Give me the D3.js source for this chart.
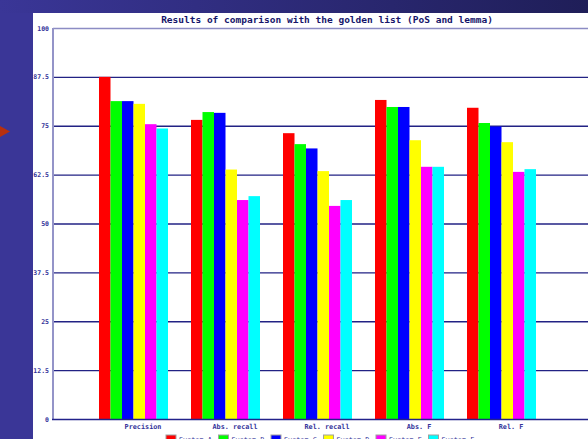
<!DOCTYPE html>
<html>
<head>
<meta charset="utf-8">
<script src="https://cdn.jsdelivr.net/npm/d3@7"></script>
<style>
  body { margin: 0; overflow: hidden; }
  text { font-family: "DejaVu Sans Mono", monospace; }
</style>
</head>
<body>
<svg id="chart"></svg>
<script>
// chart values
var categories = ["Precision", "Abs. recall", "Rel. recall", "Abs. F", "Rel. F"];
var systems = ["System A", "System B", "System C", "System D", "System E", "System F"];
var colors = ["#ff0000", "#00ff00", "#0000ff", "#ffff00", "#ff00ff", "#00ffff"];
var systemA = [87.5, 76.5, 73.1, 81.6, 79.6];
var systemB = [81.3, 78.5, 70.3, 79.8, 75.7];
var systemC = [81.3, 78.3, 69.2, 79.8, 74.8];
var systemD = [80.6, 63.8, 63.4, 71.3, 70.8];
var systemE = [75.4, 56.0, 54.5, 64.5, 63.2];
var systemF = [74.3, 57.0, 56.0, 64.5, 63.9];
var yTicks = [0, 12.5, 25, 37.5, 50, 62.5, 75, 87.5, 100];
var title = "Results of comparison with the golden list (PoS and lemma)";

var seriesValues = [systemA, systemB, systemC, systemD, systemE, systemF];

var dimensions = {
    width: 588,
    height: 439,
    panelLeft: 33,
    panelTop: 13,
    axisX: 53,
    top: 28,
    bottom: 419
};

var svg = d3.select("#chart")
    .attr("width", dimensions.width)
    .attr("height", dimensions.height);

// slide background
var defs = svg.append("defs");
var grad = defs.append("linearGradient").attr("id", "topGrad");
grad.append("stop").attr("offset", "0%").attr("stop-color", "#3a3697");
grad.append("stop").attr("offset", "100%").attr("stop-color", "#1f1e58");

svg.append("rect")
    .attr("width", dimensions.width)
    .attr("height", dimensions.height)
    .attr("fill", "#3a3697");
svg.append("rect")
    .attr("width", dimensions.width)
    .attr("height", dimensions.panelTop)
    .attr("fill", "url(#topGrad)");
svg.append("rect")
    .attr("x", dimensions.panelLeft)
    .attr("y", dimensions.panelTop)
    .attr("width", dimensions.width - dimensions.panelLeft)
    .attr("height", dimensions.height - dimensions.panelTop)
    .attr("fill", "#ffffff");

// little arrow on the slide edge
svg.append("path")
    .attr("d", "M0,126 L10,131.5 L0,137 Z")
    .attr("fill", "#b8300e");

var yScale = d3.scaleLinear()
    .domain([0, 100])
    .range([dimensions.bottom, dimensions.top]);

var xScale = d3.scaleBand()
    .domain(categories)
    .range([99, 99 + 92 * categories.length]);

var xInner = d3.scaleBand()
    .domain(systems)
    .range([0, 69]);

// gridlines
svg.append("g")
    .selectAll("line")
    .data(yTicks.filter(d => d > 0))
    .enter()
    .append("line")
    .attr("x1", dimensions.axisX)
    .attr("x2", dimensions.width)
    .attr("y1", d => yScale(d) + 0.5)
    .attr("y2", d => yScale(d) + 0.5)
    .attr("stroke", d => d === 100 ? "#8c8cc4" : "#222284")
    .attr("stroke-width", 1.3);

// y axis
var yAxis = svg.append("g")
    .attr("transform", `translate(${dimensions.axisX}, 0)`)
    .call(d3.axisLeft(yScale).tickValues(yTicks).tickSize(0).tickPadding(4)
        .tickFormat(d => String(d)));
yAxis.select(".domain").remove();
yAxis.selectAll("text")
    .attr("fill", "#33339a")
    .style("font-size", "6.5px")
    .style("font-weight", "bold")
    .style("font-family", "DejaVu Sans Mono, monospace");

svg.append("line")
    .attr("x1", dimensions.axisX)
    .attr("x2", dimensions.axisX)
    .attr("y1", dimensions.top)
    .attr("y2", dimensions.bottom)
    .attr("stroke", "#9494c8")
    .attr("stroke-width", 2);

// bars
var groups = svg.append("g")
    .selectAll("g")
    .data(categories)
    .enter()
    .append("g")
    .attr("transform", d => `translate(${xScale(d)}, 0)`);

groups.selectAll("rect")
    .data((c, i) => systems.map((s, j) => ({ system: s, value: seriesValues[j][i], color: colors[j] })))
    .enter()
    .append("rect")
    .attr("x", d => xInner(d.system))
    .attr("y", d => yScale(d.value))
    .attr("width", xInner.bandwidth())
    .attr("height", d => dimensions.bottom - yScale(d.value))
    .attr("fill", d => d.color);

// x axis baseline
svg.append("line")
    .attr("x1", dimensions.axisX - 1)
    .attr("x2", dimensions.width)
    .attr("y1", dimensions.bottom + 0.5)
    .attr("y2", dimensions.bottom + 0.5)
    .attr("stroke", "#22228a")
    .attr("stroke-width", 1.5);

// category labels
svg.append("g")
    .selectAll("text")
    .data(categories)
    .enter()
    .append("text")
    .attr("x", d => xScale(d) + xScale.bandwidth() / 2 - 2)
    .attr("y", 429)
    .attr("text-anchor", "middle")
    .attr("fill", "#33339a")
    .style("font-size", "6.8px")
    .style("font-weight", "bold")
    .text(d => d);

// title
svg.append("text")
    .attr("x", 327)
    .attr("y", 23)
    .attr("text-anchor", "middle")
    .attr("fill", "#15156a")
    .style("font-size", "9.5px")
    .style("font-weight", "bold")
    .text(title);

// legend (cut by bottom edge, as on the slide)
var legend = svg.append("g")
    .selectAll("g")
    .data(systems)
    .enter()
    .append("g")
    .attr("transform", (d, i) => `translate(${166 + i * 52.5}, 435)`);

legend.append("rect")
    .attr("width", 10)
    .attr("height", 8)
    .attr("fill", (d, i) => colors[i])
    .attr("stroke", "#a0a0a0")
    .attr("stroke-width", 1);

legend.append("text")
    .attr("x", 13)
    .attr("y", 7)
    .attr("fill", "#33339a")
    .style("font-size", "6.8px")
    .text(d => d);
</script>
</body>
</html>
